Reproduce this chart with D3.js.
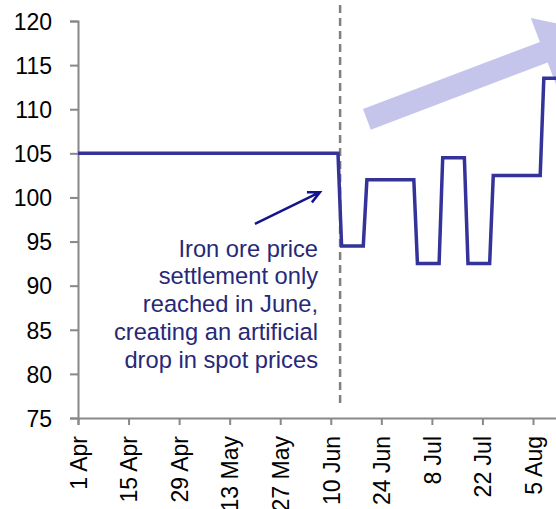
<!DOCTYPE html>
<html>
<head>
<meta charset="utf-8">
<script src="https://cdn.jsdelivr.net/npm/d3@7"></script>
<style>
    body { margin: 0; background: #fff; }
    svg { display: block; font-family: "Liberation Sans", Arial, sans-serif; }
    .axis path, .axis line { stroke: #888; stroke-width: 2; }
    .axis text { fill: #000; font-size: 23px; }
</style>
</head>
<body>
<svg></svg>
<script>
'use strict';

const WIDTH = 556;
const HEIGHT = 509;

// spot price steps (date, price)
var priceDates = [
    "2010-04-01", "2010-06-12", "2010-06-13", "2010-06-19", "2010-06-20",
    "2010-07-03", "2010-07-04", "2010-07-10", "2010-07-11", "2010-07-17",
    "2010-07-18", "2010-07-24", "2010-07-25", "2010-08-07", "2010-08-08",
    "2010-08-19"
];
var priceValues = [
    105, 105, 94.5, 94.5, 102,
    102, 92.5, 92.5, 104.5, 104.5,
    92.5, 92.5, 102.5, 102.5, 113.5,
    113.5
];

var tickDates = ["2010-04-01", "2010-04-15", "2010-04-29", "2010-05-13", "2010-05-27",
    "2010-06-10", "2010-06-24", "2010-07-08", "2010-07-22", "2010-08-05"];
var yTicks = [75, 80, 85, 90, 95, 100, 105, 110, 115, 120];

// settlement marker
var settlementDate = "2010-06-13";
var settlementRange = [76.5, 121.8];

// trend arrow (start, tip) in date / price
var trendDates = ["2010-06-20", "2010-08-23"];
var trendValues = [108.85, 118.8];

var noteLines = ["Iron ore price", "settlement only", "reached in June,",
    "creating an artificial", "drop in spot prices"];
var noteArrowDates = ["2010-05-20", "2010-06-07"];
var noteArrowValues = [97.0, 100.6];

var parse = d3.utcParse("%Y-%m-%d");
var data = priceDates.map(function (d, i) {
    return {date: parse(d), value: priceValues[i]};
});

var x = d3.scaleUtc()
    .domain([parse("2010-04-01"), parse("2010-08-19")])
    .range([78, 78 + 140 * 3.611]);

var y = d3.scaleLinear()
    .domain([75, 120])
    .range([418, 21]);

var svg = d3.select("svg")
    .attr("width", WIDTH)
    .attr("height", HEIGHT);

// trend arrow polygon, built along the direction start -> tip
(function () {
    var x0 = x(parse(trendDates[0])), y0 = y(trendValues[0]);
    var x1 = x(parse(trendDates[1])), y1 = y(trendValues[1]);
    var len = Math.hypot(x1 - x0, y1 - y0);
    var ux = (x1 - x0) / len, uy = (y1 - y0) / len;
    var nx = -uy, ny = ux;
    var shaft = 11, head = 36.5, headLen = 58;
    var bx = x1 - ux * headLen, by = y1 - uy * headLen;
    var pts = [
        [x0 + nx * shaft, y0 + ny * shaft],
        [bx + nx * shaft, by + ny * shaft],
        [bx + nx * head, by + ny * head],
        [x1, y1],
        [bx - nx * head, by - ny * head],
        [bx - nx * shaft, by - ny * shaft],
        [x0 - nx * shaft, y0 - ny * shaft]
    ];
    svg.append("polygon")
        .attr("points", pts.map(function (p) { return p.join(","); }).join(" "))
        .attr("fill", "#c5c5eb");
})();

// axes
svg.append("g")
    .attr("class", "axis")
    .attr("transform", "translate(78,0)")
    .call(d3.axisLeft(y).tickValues(yTicks).tickSize(8).tickPadding(18))
    .call(function (g) { g.selectAll("text").attr("dy", "0.36em"); });

svg.append("g")
    .attr("class", "axis")
    .attr("transform", "translate(0,418)")
    .call(d3.axisBottom(x).tickValues(tickDates.map(parse))
        .tickSize(7)
        .tickFormat(d3.utcFormat("%-d %b")))
    .call(function (g) {
        g.selectAll("text")
            .attr("transform", "rotate(-90)")
            .attr("text-anchor", "end")
            .attr("x", -18)
            .attr("y", 0)
            .attr("dy", "0.36em");
    });

// dashed settlement line
svg.append("line")
    .attr("x1", x(parse(settlementDate)) - 1.5)
    .attr("x2", x(parse(settlementDate)) - 1.5)
    .attr("y1", y(settlementRange[1]))
    .attr("y2", y(settlementRange[0]))
    .attr("stroke", "#808080")
    .attr("stroke-width", 2.5)
    .attr("stroke-dasharray", "8,5");

// price line
var line = d3.line()
    .x(function (d) { return x(d.date); })
    .y(function (d) { return y(d.value); });

svg.append("path")
    .datum(data)
    .attr("d", line)
    .attr("fill", "none")
    .attr("stroke", "#333399")
    .attr("stroke-width", 3.5)
    .attr("stroke-linejoin", "miter");

// annotation
var ax0 = x(parse(noteArrowDates[0])), ay0 = y(noteArrowValues[0]);
var ax1 = x(parse(noteArrowDates[1])), ay1 = y(noteArrowValues[1]);
var ang = Math.atan2(ay1 - ay0, ax1 - ax0);
var wing = 13;
svg.append("path")
    .attr("d", "M" + ax0 + "," + ay0 + "L" + ax1 + "," + ay1
        + "M" + (ax1 - wing * Math.cos(ang - 0.45)) + "," + (ay1 - wing * Math.sin(ang - 0.45))
        + "L" + ax1 + "," + ay1
        + "L" + (ax1 - wing * Math.cos(ang + 0.45)) + "," + (ay1 - wing * Math.sin(ang + 0.45)))
    .attr("fill", "none")
    .attr("stroke", "#14148c")
    .attr("stroke-width", 2.5);

svg.append("text")
    .attr("text-anchor", "end")
    .attr("font-size", "23.7px")
    .attr("fill", "#282878")
    .selectAll("tspan")
    .data(noteLines)
    .enter()
    .append("tspan")
    .attr("x", 318)
    .attr("y", function (d, i) { return 256.5 + i * 27.9; })
    .text(function (d) { return d; });
</script>
</body>
</html>
